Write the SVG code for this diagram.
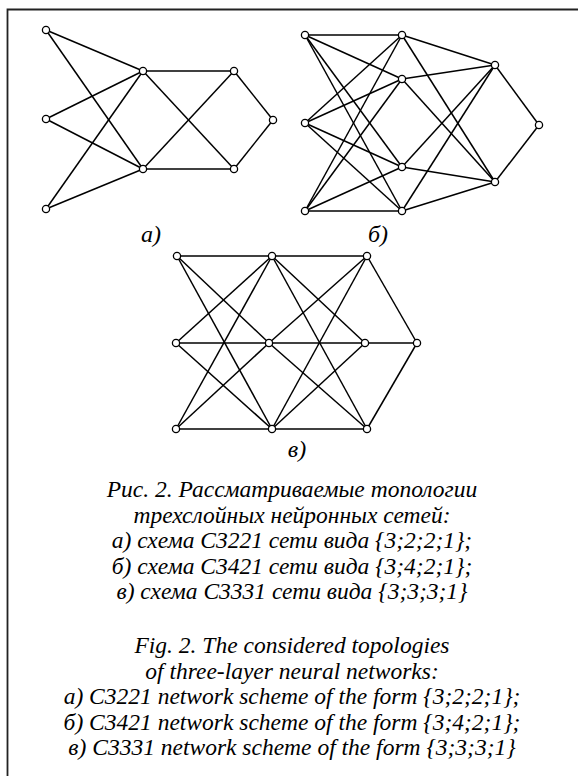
<svg xmlns="http://www.w3.org/2000/svg" width="578" height="776" viewBox="0 0 578 776">
<style>
.e{stroke:#000;stroke-width:1.5;fill:none}
.n{fill:#fff;stroke:#000;stroke-width:1.3}
.t{font-family:"Liberation Serif","Times New Roman",serif;font-style:italic;font-size:23.5px;fill:#000;text-anchor:middle}
.l{font-family:"Liberation Serif","Times New Roman",serif;font-style:italic;font-size:24px;fill:#000;text-anchor:middle}
</style>
<rect width="578" height="776" fill="#fff"/>
<path d="M7.5 776 V9.5 H578" stroke="#222" stroke-width="1.8" fill="none"/>
<g id="connectors" class="e">
<line x1="46" y1="30" x2="143" y2="71"/><line x1="46" y1="30" x2="143" y2="169"/>
<line x1="46" y1="119" x2="143" y2="71"/><line x1="46" y1="119" x2="143" y2="169"/>
<line x1="46" y1="209" x2="143" y2="71"/><line x1="46" y1="209" x2="143" y2="169"/>
<line x1="143" y1="71" x2="234" y2="71"/><line x1="143" y1="71" x2="234" y2="169"/>
<line x1="143" y1="169" x2="234" y2="71"/><line x1="143" y1="169" x2="234" y2="169"/>
<line x1="234" y1="71" x2="273" y2="120"/><line x1="234" y1="169" x2="273" y2="120"/>
<line x1="305" y1="35" x2="402" y2="35"/><line x1="305" y1="35" x2="402" y2="79"/><line x1="305" y1="35" x2="402" y2="167"/><line x1="305" y1="35" x2="402" y2="211"/>
<line x1="305" y1="123" x2="402" y2="35"/><line x1="305" y1="123" x2="402" y2="79"/><line x1="305" y1="123" x2="402" y2="167"/><line x1="305" y1="123" x2="402" y2="211"/>
<line x1="305" y1="211" x2="402" y2="35"/><line x1="305" y1="211" x2="402" y2="79"/><line x1="305" y1="211" x2="402" y2="167"/><line x1="305" y1="211" x2="402" y2="211"/>
<line x1="402" y1="35" x2="495" y2="65"/><line x1="402" y1="35" x2="495" y2="182"/>
<line x1="402" y1="79" x2="495" y2="65"/><line x1="402" y1="79" x2="495" y2="182"/>
<line x1="402" y1="167" x2="495" y2="65"/><line x1="402" y1="167" x2="495" y2="182"/>
<line x1="402" y1="211" x2="495" y2="65"/><line x1="402" y1="211" x2="495" y2="182"/>
<line x1="495" y1="65" x2="539" y2="125"/><line x1="495" y1="182" x2="539" y2="125"/>
<line x1="177" y1="256" x2="272" y2="256"/><line x1="177" y1="256" x2="269" y2="343"/><line x1="177" y1="256" x2="272" y2="429"/>
<line x1="176" y1="343" x2="272" y2="256"/><line x1="176" y1="343" x2="269" y2="343"/><line x1="176" y1="343" x2="272" y2="429"/>
<line x1="176" y1="429" x2="272" y2="256"/><line x1="176" y1="429" x2="269" y2="343"/><line x1="176" y1="429" x2="272" y2="429"/>
<line x1="272" y1="256" x2="367" y2="256"/><line x1="272" y1="256" x2="365" y2="343"/><line x1="272" y1="256" x2="367" y2="429"/>
<line x1="269" y1="343" x2="367" y2="256"/><line x1="269" y1="343" x2="365" y2="343"/><line x1="269" y1="343" x2="367" y2="429"/>
<line x1="272" y1="429" x2="367" y2="256"/><line x1="272" y1="429" x2="365" y2="343"/><line x1="272" y1="429" x2="367" y2="429"/>
<line x1="367" y1="256" x2="417" y2="343"/><line x1="365" y1="343" x2="417" y2="343"/><line x1="367" y1="429" x2="417" y2="343"/>
</g>
<g id="nodes-a">
<g id="a1"><circle class="n" cx="46" cy="30" r="3.6"/></g>
<g id="a2"><circle class="n" cx="46" cy="119" r="3.6"/></g>
<g id="a3"><circle class="n" cx="46" cy="209" r="3.6"/></g>
<g id="a4"><circle class="n" cx="143" cy="71" r="3.6"/></g>
<g id="a5"><circle class="n" cx="143" cy="169" r="3.6"/></g>
<g id="a6"><circle class="n" cx="234" cy="71" r="3.6"/></g>
<g id="a7"><circle class="n" cx="234" cy="169" r="3.6"/></g>
<g id="a8"><circle class="n" cx="273" cy="120" r="3.6"/></g>
</g>
<g id="nodes-b">
<g id="b1"><circle class="n" cx="305" cy="35" r="3.6"/></g>
<g id="b2"><circle class="n" cx="305" cy="123" r="3.6"/></g>
<g id="b3"><circle class="n" cx="305" cy="211" r="3.6"/></g>
<g id="b4"><circle class="n" cx="402" cy="35" r="3.6"/></g>
<g id="b5"><circle class="n" cx="402" cy="79" r="3.6"/></g>
<g id="b6"><circle class="n" cx="402" cy="167" r="3.6"/></g>
<g id="b7"><circle class="n" cx="402" cy="211" r="3.6"/></g>
<g id="b8"><circle class="n" cx="495" cy="65" r="3.6"/></g>
<g id="b9"><circle class="n" cx="495" cy="182" r="3.6"/></g>
<g id="b10"><circle class="n" cx="539" cy="125" r="3.6"/></g>
</g>
<g id="nodes-c">
<g id="c1"><circle class="n" cx="177" cy="256" r="3.6"/></g>
<g id="c2"><circle class="n" cx="176" cy="343" r="3.6"/></g>
<g id="c3"><circle class="n" cx="176" cy="429" r="3.6"/></g>
<g id="c4"><circle class="n" cx="272" cy="256" r="3.6"/></g>
<g id="c5"><circle class="n" cx="269" cy="343" r="3.6"/></g>
<g id="c6"><circle class="n" cx="272" cy="429" r="3.6"/></g>
<g id="c7"><circle class="n" cx="367" cy="256" r="3.6"/></g>
<g id="c8"><circle class="n" cx="365" cy="343" r="3.6"/></g>
<g id="c9"><circle class="n" cx="367" cy="429" r="3.6"/></g>
<g id="c10"><circle class="n" cx="417" cy="343" r="3.6"/></g>
</g>
<g id="labels">
<text class="l" x="151" y="242">а)</text>
<text class="l" x="378" y="242">б)</text>
<text class="l" x="297" y="457">в)</text>
</g>
<g id="caption">
<text class="t" x="292" y="497">Рис. 2. Рассматриваемые топологии</text>
<text class="t" x="292" y="522.5">трехслойных нейронных сетей:</text>
<text class="t" x="292" y="548">а) схема С3221 сети вида {3;2;2;1};</text>
<text class="t" x="292" y="573.5">б) схема С3421 сети вида {3;4;2;1};</text>
<text class="t" x="292" y="599">в) схема С3331 сети вида {3;3;3;1}</text>
<text class="t" x="292" y="653">Fig. 2. The considered topologies</text>
<text class="t" x="292" y="678.5">of three-layer neural networks:</text>
<text class="t" x="292" y="704">а) C3221 network scheme of the form {3;2;2;1};</text>
<text class="t" x="292" y="729.5">б) C3421 network scheme of the form {3;4;2;1};</text>
<text class="t" x="292" y="755">в) C3331 network scheme of the form {3;3;3;1}</text>
</g>
</svg>
